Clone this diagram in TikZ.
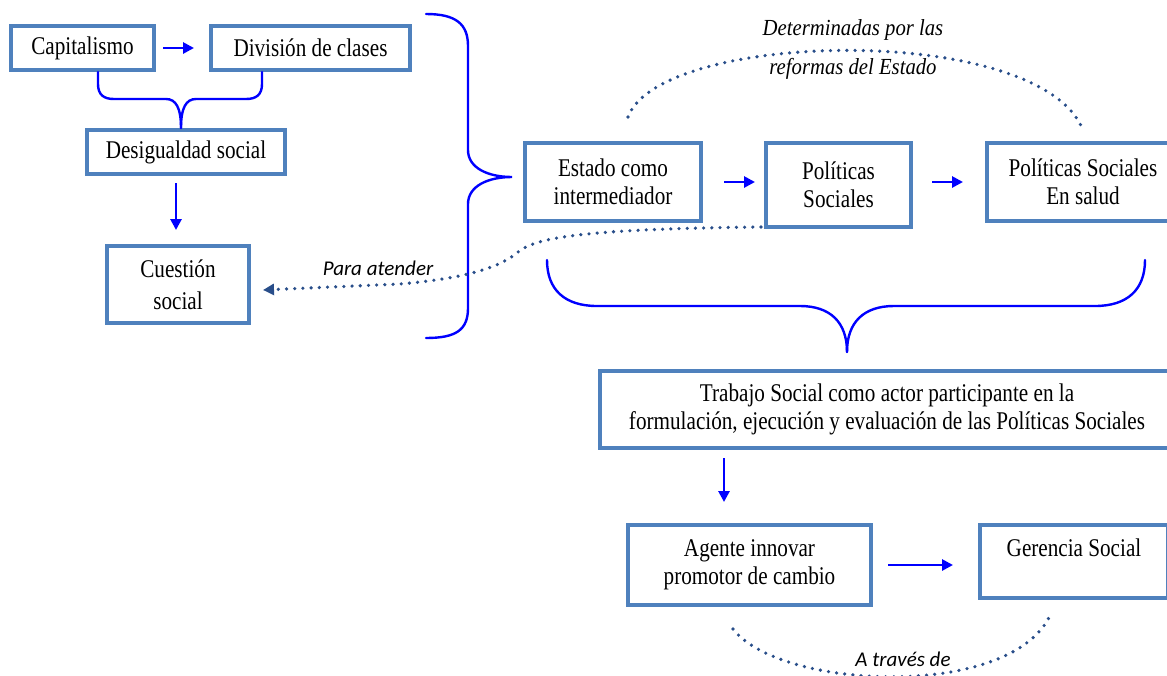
\documentclass[tikz,border=0pt]{standalone}
\usepackage{fontspec}
\setmainfont{Liberation Serif}[FakeStretch=0.83]
\newfontfamily\notefont{Liberation Serif}[FakeStretch=0.9]
\newfontfamily\calibri{Carlito}
\usetikzlibrary{arrows.meta,calc}

\definecolor{boxblue}{RGB}{79,129,189}
\definecolor{linkblue}{RGB}{0,0,255}
\definecolor{dotblue}{RGB}{41,78,138}

\begin{document}
\begin{tikzpicture}[x=1pt,y=-1pt,
  box/.style={draw=boxblue,line width=4pt,fill=white,inner sep=0pt,outer sep=0pt,
              align=center,font=\fontsize{25.5}{28}\selectfont},
  arr/.style={draw=linkblue,line width=2.8pt,-{Triangle[length=11pt,width=11pt]}},
  brace/.style={draw=linkblue,line width=2.4pt,line cap=round},
  dots/.style={draw=dotblue,line width=3.6pt,line cap=round,dash pattern=on 0pt off 8.2pt},
  note/.style={font=\notefont\fontsize{23}{39}\selectfont\itshape,align=center},
  cnote/.style={font=\calibri\fontsize{21}{25}\selectfont\itshape}]

\useasboundingbox (0,0) rectangle (1167,675);
\clip (0,0) rectangle (1167,675);

% boxes
\node[box,minimum width=143pt,minimum height=44pt] (cap) at (82.5,48) {Capitalismo};
\node[box,minimum width=199pt,minimum height=44pt] (div) at (310.5,48) {División de clases};
\node[box,minimum width=198pt,minimum height=44pt] (des) at (186,152) {Desigualdad social};
\node[box,minimum width=142pt,minimum height=77pt,font=\fontsize{25.5}{32}\selectfont] (cue) at (178,284.5) {Cuestión\\social};
\node[box,minimum width=176pt,minimum height=78pt] (est) at (613,182) {Estado como\\intermediador};
\node[box,minimum width=145pt,minimum height=84pt] (pol) at (838.5,185) {Políticas\\Sociales};
\node[box,minimum width=192pt,minimum height=78pt] (sal) at (1083,182) {Políticas Sociales\\En salud};
\node[box,minimum width=574pt,minimum height=77pt] (tra) at (887,409.5)
  {Trabajo Social como actor participante en la\\formulación, ejecución y evaluación de las Políticas Sociales};
\node[box,minimum width=243pt,minimum height=80pt] (age) at (749.5,565) {Agente innovar\\promotor de cambio};
\node[box,minimum width=188pt,minimum height=73pt] (ger) at (1074,561.5) {Gerencia Social\\\mbox{}};

% arrows
\draw[arr,shorten <=9pt,shorten >=17pt] (cap.east) -- (cap.east -| div.west);
\draw[arr] ([xshift=-10pt,yshift=-9pt]des.south) -- ([xshift=-2pt,yshift=16pt]cue.north);
\draw[arr,shorten <=23pt,shorten >=11pt] (est.east) -- (est.east -| pol.west);
\draw[arr,shorten <=21pt,shorten >=24pt] (est.east -| pol.east) -- (est.east -| sal.west);
\draw[arr] ([xshift=-163pt,yshift=-10pt]tra.south) -- ([xshift=-25.5pt,yshift=23pt]age.north);
\draw[arr,shorten <=17pt,shorten >=27pt] (age.east) -- (age.east -| ger.west);

% braces
\draw[brace] (98,72) -- (98,84) .. controls (98,95) and (104,99) .. (114,99) -- (166,99)
  .. controls (176,99) and (181,108) .. (181,128);
\draw[brace] (262,72) -- (262,84) .. controls (262,95) and (256,99) .. (246,99) -- (196,99)
  .. controls (186,99) and (181,108) .. (181,128);
\draw[brace] (426,14) .. controls (456,14) and (468,24) .. (468,46) -- (468,150)
  .. controls (468,168) and (488,177) .. (512,177)
  .. controls (488,177) and (468,186) .. (468,204) -- (468,308)
  .. controls (468,330) and (456,338) .. (426,338);
\draw[brace] (547,260) .. controls (547,290) and (565,306) .. (597,306) -- (800,306)
  .. controls (830,306) and (847,322) .. (847,352);
\draw[brace] (1145,260) .. controls (1145,290) and (1127,306) .. (1095,306) -- (894,306)
  .. controls (864,306) and (847,322) .. (847,352);

% dotted links
\coordinate (arcA) at ([xshift=15pt,yshift=26pt]est.north);
\coordinate (arcB) at ([yshift=13pt]sal.north);
\draw[dots] (arcA) .. controls (660,30) and (1040,22) .. (arcB);
\node[note] (det) at (853,49) {Determinadas por las\\reformas del Estado};

\draw[dots,-{Triangle[length=11pt,width=11pt]}] ([xshift=-5pt]pol.south west)
  .. controls (580,229) and (535,238) .. (518,252)
  .. controls (502,266) and (470,278) .. (400,284)
  -- ([xshift=14pt,yshift=-5.5pt]cue.east);
\node[cnote] (para) at (378,268) {Para atender};

\coordinate (arcC) at ([xshift=-16.5pt,yshift=-24pt]age.south);
\coordinate (arcD) at ([xshift=-24pt,yshift=-17.5pt]ger.south);
\draw[dots] (arcC) .. controls (780,690) and (1010,700) .. (arcD);
\node[cnote] (trav) at (903,659) {A través de};

\end{tikzpicture}
\end{document}
